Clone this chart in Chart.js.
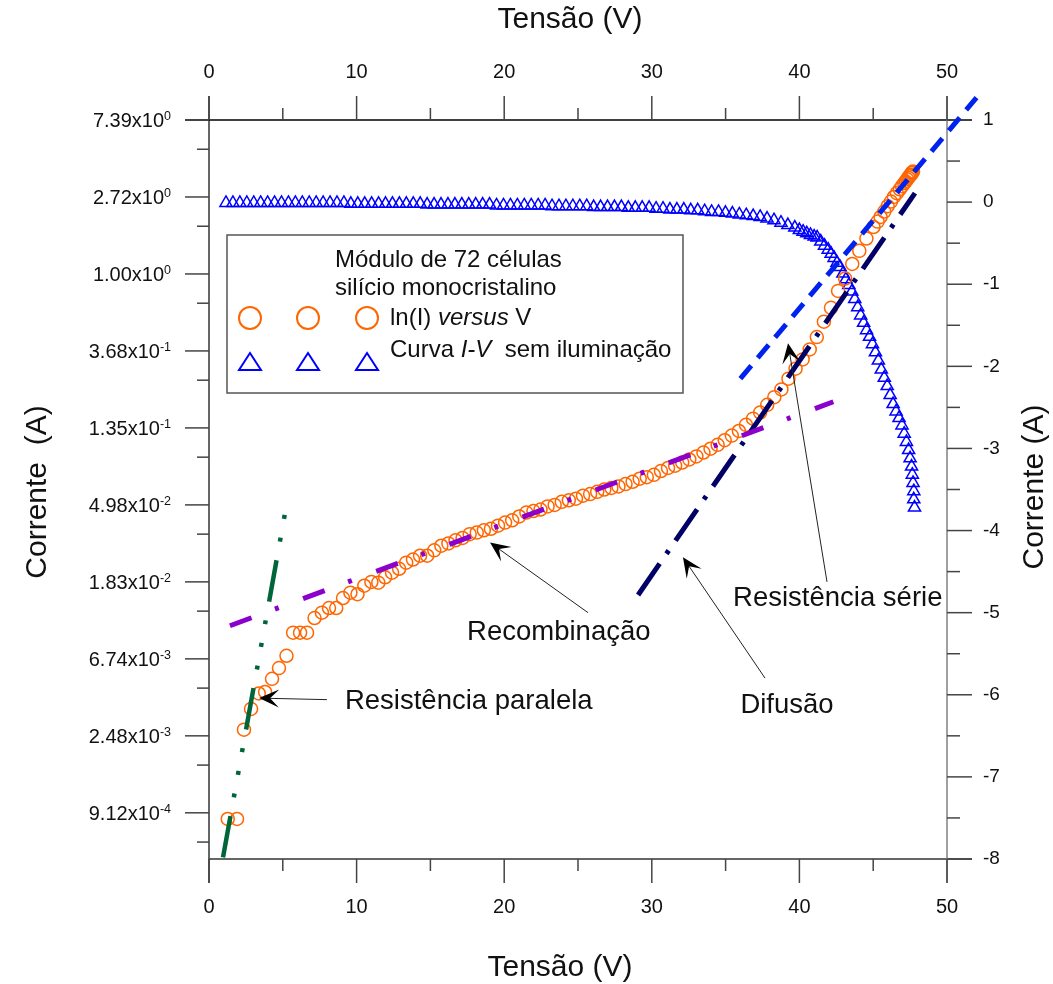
<!DOCTYPE html>
<html>
<head>
<meta charset="utf-8">
<script src="https://cdn.jsdelivr.net/npm/chart.js@4.4.0/dist/chart.umd.min.js"></script>
<style>
  html, body { margin: 0; padding: 0; background: #fff; }
  #wrap { width: 1053px; height: 984px; position: relative; }
</style>
</head>
<body>
<div id="wrap"><canvas id="grafico"></canvas></div>
<script>
// Tensão (V) das medidas de ln(I)
const tensao = [1.27, 1.9, 2.37, 2.85, 3.37, 3.8, 4.27, 4.74, 5.25, 5.7, 6.17, 6.64, 7.15, 7.65, 8.13, 8.62, 9.08, 9.58,
  10.06, 10.52, 11.0, 11.47, 11.93, 12.4, 12.88, 13.36, 13.82, 14.3, 14.78, 15.26, 15.74, 16.22, 16.7, 17.18, 17.66, 18.14,
  18.62, 19.1, 19.58, 20.06, 20.54, 21.02, 21.5, 21.98, 22.46, 22.94, 23.42, 23.9, 24.38, 24.86, 25.34, 25.82, 26.3, 26.78,
  27.26, 27.74, 28.22, 28.7, 29.18, 29.66, 30.14, 30.62, 31.1, 31.58, 32.06, 32.54, 33.02, 33.5, 33.98, 34.46, 34.94, 35.42,
  35.9, 36.38, 36.86, 37.34, 37.82, 38.3, 38.78, 39.26, 39.74, 40.22, 40.7, 41.18, 41.66, 42.14, 42.62, 43.1, 43.58, 44.06,
  44.54, 45.02, 45.3, 45.5, 45.75, 45.98, 46.2, 46.4, 46.6, 46.8, 46.95, 47.1, 47.2, 47.3, 47.38, 47.45, 47.5, 47.55, 47.6, 47.65, 47.7];

// ln(I) versus V (eixo esquerdo)
const lnCorrente = [-7.08, -7.08, -5.92, -5.65, -5.45, -5.43, -5.26, -5.12, -4.96, -4.66, -4.66, -4.66, -4.47, -4.40, -4.34, -4.34, -4.21, -4.14,
  -4.16, -4.05, -4.00, -4.01, -3.94, -3.88, -3.83, -3.75, -3.71, -3.66, -3.66, -3.59, -3.53, -3.50, -3.46, -3.43, -3.38, -3.36,
  -3.33, -3.31, -3.27, -3.23, -3.20, -3.15, -3.10, -3.08, -3.06, -3.02, -3.00, -2.96, -2.94, -2.92, -2.88, -2.86, -2.83, -2.80,
  -2.78, -2.76, -2.73, -2.70, -2.66, -2.64, -2.61, -2.56, -2.52, -2.49, -2.45, -2.41, -2.37, -2.32, -2.27, -2.22, -2.16, -2.10,
  -2.04, -1.96, -1.88, -1.80, -1.70, -1.60, -1.50, -1.36, -1.23, -1.11, -0.98, -0.82, -0.62, -0.44, -0.22, -0.06, 0.13, 0.30,
  0.46, 0.61, 0.68, 0.74, 0.81, 0.88, 0.94, 1.00, 1.05, 1.10, 1.14, 1.18, 1.20, 1.23, 1.25, 1.27, 1.28, 1.29, 1.31, 1.32, 1.33];

// Tensão (V) das medidas da curva I-V
const tensaoIV = [1.15, 1.62, 2.09, 2.56, 3.03, 3.5, 3.97, 4.44, 4.91, 5.38, 5.85, 6.32, 6.79, 7.26, 7.73, 8.2, 8.67, 9.14,
  9.61, 10.08, 10.55, 11.02, 11.49, 11.96, 12.43, 12.9, 13.37, 13.84, 14.31, 14.78, 15.25, 15.72, 16.19, 16.66, 17.13, 17.6,
  18.07, 18.54, 19.01, 19.48, 19.95, 20.42, 20.89, 21.36, 21.83, 22.3, 22.77, 23.24, 23.71, 24.18, 24.65, 25.12, 25.59, 26.06,
  26.53, 27.0, 27.47, 27.94, 28.41, 28.88, 29.35, 29.82, 30.29, 30.76, 31.23, 31.7, 32.17, 32.64, 33.11, 33.58, 34.05, 34.52,
  34.99, 35.46, 35.93, 36.4, 36.87, 37.34, 37.81, 38.28, 38.75, 39.22, 39.69, 40.0, 40.25, 40.5, 40.75, 41.0, 41.2, 41.45,
  41.7, 41.95, 42.15, 42.35, 42.55, 42.75, 42.95, 43.15, 43.35, 43.55, 43.75, 43.95, 44.15, 44.35, 44.55, 44.75, 44.95, 45.15,
  45.35, 45.55, 45.75, 45.95, 46.15, 46.35, 46.55, 46.75, 46.95, 47.1, 47.25, 47.4, 47.5, 47.6, 47.65, 47.7, 47.75, 47.75, 47.8];

// Curva I-V sem iluminação (eixo direito, A)
const correnteIV = [-0.01, -0.01, -0.01, -0.01, -0.01, -0.01, -0.01, -0.01, -0.01, -0.01, -0.01, -0.01, -0.01, -0.01, -0.01, -0.01, -0.01, -0.01,
  -0.02, -0.02, -0.02, -0.02, -0.02, -0.02, -0.02, -0.02, -0.02, -0.02, -0.02, -0.03, -0.03, -0.03, -0.03, -0.03, -0.03, -0.03,
  -0.03, -0.03, -0.03, -0.04, -0.04, -0.04, -0.04, -0.04, -0.04, -0.04, -0.04, -0.05, -0.05, -0.05, -0.05, -0.05, -0.05, -0.06,
  -0.06, -0.06, -0.06, -0.06, -0.07, -0.07, -0.07, -0.07, -0.08, -0.08, -0.09, -0.09, -0.09, -0.10, -0.10, -0.11, -0.12, -0.12,
  -0.13, -0.14, -0.15, -0.16, -0.17, -0.18, -0.20, -0.22, -0.25, -0.28, -0.31, -0.34, -0.36, -0.38, -0.40, -0.42, -0.43, -0.48,
  -0.53, -0.58, -0.63, -0.68, -0.74, -0.79, -0.87, -0.94, -1.01, -1.09, -1.18, -1.28, -1.38, -1.47, -1.56, -1.64, -1.73, -1.83,
  -1.93, -2.04, -2.14, -2.24, -2.35, -2.46, -2.55, -2.63, -2.72, -2.82, -2.92, -3.02, -3.12, -3.22, -3.32, -3.42, -3.52, -3.62, -3.72];

// retas de ajuste: [V inicial, V final] e [ln(I) inicial, ln(I) final]
const paralelaV = [0.95, 5.28], paralelaLn = [-7.58, -2.97];
const recombV = [1.42, 42.3], recombLn = [-4.57, -1.66];
const difusaoV = [29.07, 47.83], difusaoLn = [-4.17, 1.05];
const serieV = [36.0, 52.0], serieLn = [-1.36, 2.29];

// marcas dos eixos
const tensaoTicks = [0, 10, 20, 30, 40, 50];
const tensaoMinor = [5, 15, 25, 35, 45];
const lnTicks = [2, 1, 0, -1, -2, -3, -4, -5, -6, -7];
const lnTickMantissa = ['7.39', '2.72', '1.00', '3.68', '1.35', '4.98', '1.83', '6.74', '2.48', '9.12'];
const lnTickExp = ['0', '0', '0', '-1', '-1', '-2', '-2', '-3', '-3', '-4'];
const lnMinor = [1.62, 0.62, -0.38, -1.38, -2.38, -3.38, -4.38, -5.38, -6.38, -7.38];
const ivTicks = [1, 0, -1, -2, -3, -4, -5, -6, -7, -8];
const ivMinor = [0.5, -0.5, -1.5, -2.5, -3.5, -4.5, -5.5, -6.5, -7.5];

const FONT = 'Arial, "Liberation Sans", sans-serif';

function pts(xs, ys) { return xs.map((v, i) => ({ x: v, y: ys[i] })); }

function seg(ctx, x1, y1, x2, y2) {
  ctx.beginPath(); ctx.moveTo(x1, y1); ctx.lineTo(x2, y2); ctx.stroke();
}

function drawRuns(ctx, x, y, runs, size) {
  runs.forEach(r => {
    ctx.font = (r.i ? 'italic ' : '') + size + 'px ' + FONT;
    ctx.fillText(r.t, x, y);
    x += ctx.measureText(r.t).width;
  });
}

function arrow(ctx, x1, y1, x2, y2) {
  ctx.strokeStyle = '#222'; ctx.lineWidth = 1;
  const dx = x2 - x1, dy = y2 - y1, len = Math.hypot(dx, dy);
  const ux = dx / len, uy = dy / len, nx = -uy, ny = ux;
  const L = 20, W = 9;
  seg(ctx, x1, y1, x2 - ux * 8, y2 - uy * 8);
  ctx.fillStyle = '#000';
  ctx.beginPath();
  ctx.moveTo(x2, y2);
  ctx.lineTo(x2 - ux * L + nx * W, y2 - uy * L + ny * W);
  ctx.lineTo(x2 - ux * L * 0.55, y2 - uy * L * 0.55);
  ctx.lineTo(x2 - ux * L - nx * W, y2 - uy * L - ny * W);
  ctx.closePath();
  ctx.fill();
}

const eixosPlugin = {
  id: 'eixos',
  beforeDatasetsDraw(chart) {
    const { ctx, chartArea: a, scales } = chart;
    const sx = scales.x, sy = scales.y, sy2 = scales.y2;
    ctx.save();
    ctx.lineWidth = 1.5;
    // linhas dos eixos
    ctx.strokeStyle = '#333';
    seg(ctx, a.left, a.top - 24, a.left, a.bottom + 24);
    seg(ctx, a.left, a.bottom, a.right + 25, a.bottom);
    ctx.strokeStyle = '#000';
    seg(ctx, a.left - 24, a.top, a.right + 25, a.top);
    ctx.strokeStyle = '#808080';
    seg(ctx, a.right, a.top - 24, a.right, a.bottom + 24);

    ctx.strokeStyle = '#444';
    lnTicks.forEach(v => { const p = sy.getPixelForValue(v); seg(ctx, a.left - 24, p, a.left, p); });
    lnMinor.forEach(v => { const p = sy.getPixelForValue(v); seg(ctx, a.left - 12, p, a.left, p); });
    ivTicks.forEach(v => { const p = sy2.getPixelForValue(v); seg(ctx, a.right, p, a.right + 25, p); });
    ivMinor.forEach(v => { const p = sy2.getPixelForValue(v); seg(ctx, a.right, p, a.right + 13, p); });
    tensaoTicks.forEach(v => {
      const p = sx.getPixelForValue(v);
      seg(ctx, p, a.bottom, p, a.bottom + 24);
      seg(ctx, p, a.top - 24, p, a.top);
    });
    tensaoMinor.forEach(v => {
      const p = sx.getPixelForValue(v);
      seg(ctx, p, a.bottom, p, a.bottom + 12);
      seg(ctx, p, a.top - 12, p, a.top);
    });

    // rótulos
    ctx.fillStyle = '#111';
    ctx.font = '20px ' + FONT;
    ctx.textAlign = 'center'; ctx.textBaseline = 'middle';
    tensaoTicks.forEach(v => {
      const p = sx.getPixelForValue(v);
      ctx.fillText(String(v), p, a.bottom + 48);
      ctx.fillText(String(v), p, a.top - 48);
    });
    ctx.textAlign = 'left';
    ctx.font = '19px ' + FONT;
    ivTicks.forEach(v => ctx.fillText(String(v), a.right + 36, sy2.getPixelForValue(v)));

    ctx.textBaseline = 'alphabetic';
    lnTicks.forEach((v, i) => {
      const p = sy.getPixelForValue(v);
      const m = lnTickMantissa[i] + 'x10', e = lnTickExp[i];
      ctx.font = '20px ' + FONT; const wm = ctx.measureText(m).width;
      ctx.font = '12.5px ' + FONT; const we = ctx.measureText(e).width;
      const x0 = a.left - 38 - wm - we;
      ctx.font = '20px ' + FONT; ctx.fillText(m, x0, p + 7);
      ctx.font = '12.5px ' + FONT; ctx.fillText(e, x0 + wm, p);
    });

    // títulos
    ctx.font = '30px ' + FONT;
    ctx.textAlign = 'center'; ctx.textBaseline = 'middle';
    ctx.fillText('Tensão (V)', 560, 968);
    ctx.fillText('Tensão (V)', 570, 20);
    ctx.save(); ctx.translate(38, 492); ctx.rotate(-Math.PI / 2);
    ctx.fillText('Corrente  (A)', 0, 0); ctx.restore();
    ctx.save(); ctx.translate(1035, 487); ctx.rotate(-Math.PI / 2);
    ctx.fillText('Corrente (A)', 0, 0); ctx.restore();
    ctx.restore();
  },
  afterDatasetsDraw(chart) {
    const { ctx, chartArea: a, scales } = chart;
    const px = v => scales.x.getPixelForValue(v), py = v => scales.y.getPixelForValue(v);
    ctx.save();
    // legenda
    ctx.fillStyle = '#fff';
    ctx.strokeStyle = '#555'; ctx.lineWidth = 1.5;
    ctx.fillRect(a.left + 18, a.top + 115, 456, 158);
    ctx.strokeRect(a.left + 18, a.top + 115, 456, 158);
    ctx.fillStyle = '#111'; ctx.textAlign = 'left'; ctx.textBaseline = 'middle';
    ctx.font = '24px ' + FONT;
    ctx.fillText('Módulo de 72 células', a.left + 126, a.top + 140);
    ctx.fillText('silício monocristalino', a.left + 126, a.top + 168);
    [41, 99, 158].forEach(dx => {
      const x = a.left + dx;
      ctx.strokeStyle = '#ff6600'; ctx.lineWidth = 2;
      ctx.beginPath(); ctx.arc(x, a.top + 198, 11, 0, Math.PI * 2); ctx.stroke();
      ctx.strokeStyle = '#0000ff';
      ctx.beginPath(); ctx.moveTo(x, a.top + 233); ctx.lineTo(x + 11, a.top + 250); ctx.lineTo(x - 11, a.top + 250);
      ctx.closePath(); ctx.stroke();
    });
    ctx.fillStyle = '#111';
    drawRuns(ctx, a.left + 181, a.top + 198, [{ t: 'ln(I) ' }, { t: 'versus', i: true }, { t: ' V' }], 24);
    drawRuns(ctx, a.left + 181, a.top + 230, [{ t: 'Curva ' }, { t: 'I-V', i: true }, { t: '  sem iluminação' }], 24);

    // anotações
    ctx.font = '27.5px ' + FONT;
    ctx.fillStyle = '#111';
    ctx.textAlign = 'left';
    ctx.fillText('Resistência paralela', px(9.21), py(-5.55));
    ctx.textAlign = 'center';
    ctx.fillText('Recombinação', px(23.7), py(-4.66));
    ctx.fillText('Difusão', px(39.16), py(-5.61));
    ctx.fillText('Resistência série', px(42.6), py(-4.21));
    arrow(ctx, px(7.99), py(-5.53), px(3.39), py(-5.51));
    arrow(ctx, px(25.68), py(-4.40), px(19.04), py(-3.49));
    arrow(ctx, px(37.67), py(-5.25), px(32.11), py(-3.68));
    arrow(ctx, px(41.87), py(-4.0), px(39.23), py(-0.90));
    ctx.restore();
  }
};

const reta = (xs, ys, cor, larg, dash, extra) => Object.assign({
  data: pts(xs, ys), showLine: true, pointRadius: 0, borderColor: cor, borderWidth: larg,
  borderDash: dash, borderCapStyle: 'butt', fill: false, yAxisID: 'y', xAxisID: 'x'
}, extra || {});

new Chart(document.getElementById('grafico'), {
  type: 'scatter',
  data: {
    datasets: [
      reta(paralelaV, paralelaLn, '#00663a', 4.5, [42, 19, 4, 19, 4, 19, 4, 19]),
      reta(recombV, recombLn, '#8b00cc', 5, [23, 25, 4, 26]),
      reta(difusaoV, difusaoLn, '#000066', 5, [38, 12, 4, 12]),
      reta(serieV, serieLn, '#0022ee', 5, [17, 10], { clip: false }),
      {
        data: pts(tensao, lnCorrente), yAxisID: 'y', xAxisID: 'x',
        pointStyle: 'circle', pointRadius: 6.5, borderColor: '#ff6600', borderWidth: 1.5,
        backgroundColor: 'rgba(0,0,0,0)'
      },
      {
        data: pts(tensaoIV, correnteIV), yAxisID: 'y2', xAxisID: 'x',
        pointStyle: 'triangle', pointRadius: 7, borderColor: '#0000ff', borderWidth: 1.5,
        backgroundColor: 'rgba(0,0,0,0)'
      }
    ]
  },
  options: {
    responsive: true,
    maintainAspectRatio: false,
    animation: false,
    layout: { padding: { left: 209, right: 106, top: 120, bottom: 125 } },
    plugins: { legend: { display: false }, tooltip: { enabled: false } },
    scales: {
      x: { type: 'linear', min: 0, max: 50, display: false },
      x2: { type: 'linear', axis: 'x', position: 'top', min: 0, max: 50, display: false },
      y: { type: 'linear', min: -7.6, max: 2, display: false },
      y2: { type: 'linear', position: 'right', min: -8, max: 1, display: false }
    }
  },
  plugins: [eixosPlugin]
});
</script>
</body>
</html>
